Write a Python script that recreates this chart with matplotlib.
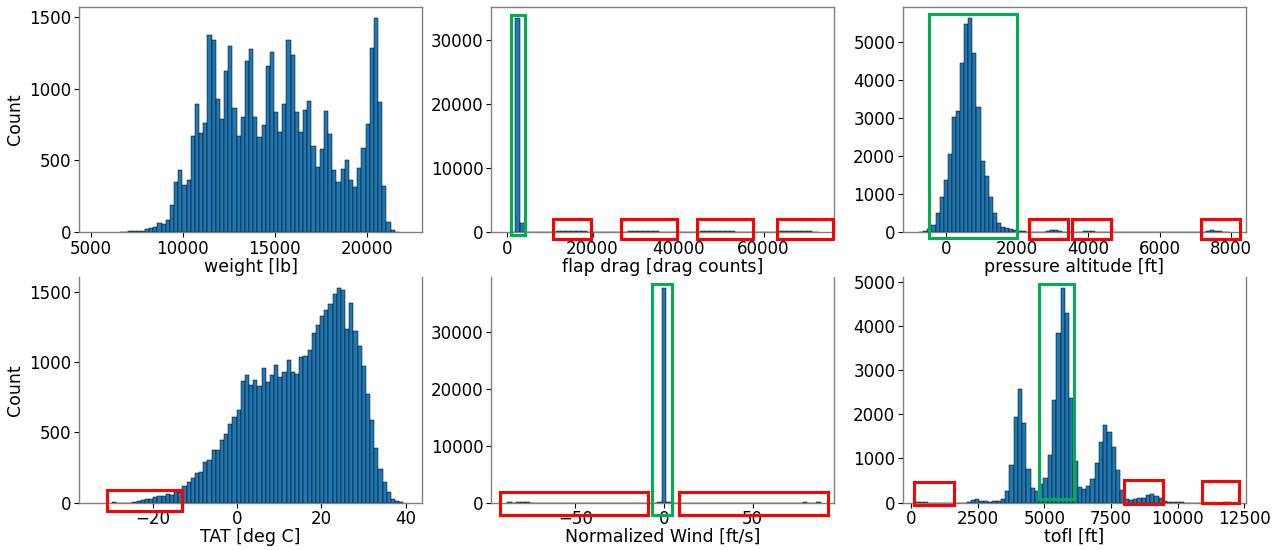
import numpy as np
import matplotlib
matplotlib.use("Agg")
import matplotlib.pyplot as plt
from matplotlib.patches import Rectangle

# ---------------- data (histogram counts per bin) ----------------
weight_edges = np.linspace(6590, 21750, 68)
weight_counts = [4, 5, 6, 8, 10,
                 12, 21, 32, 37, 67, 58, 86, 188, 350, 436, 327, 362, 668, 890, 688, 763,
                 1372, 1340, 927, 788, 1122, 1298, 862, 672, 800, 1194, 1273, 800, 663, 744,
                 1154, 1252, 837, 695,
                 890, 1335, 1231, 834, 695, 848, 911, 600, 452, 582, 844, 684, 431, 352, 440,
                 501, 362, 313, 447, 586, 753, 1280, 1493, 909, 322, 74, 19, 5]

flap_edges = np.linspace(650, 72650, 61)
flap_counts = [120, 33530, 1500,
               30, 10, 5, 3, 2, 1,
               220, 250, 240, 260, 230, 210,
               3, 2, 1, 1, 0, 1, 2, 3,
               220, 250, 260, 240, 230, 210,
               2, 1, 0, 0, 1, 0, 1, 3,
               210, 240, 260, 250, 230, 245, 200,
               2, 1, 0, 0, 0, 0, 1, 2,
               200, 240, 260, 250, 230, 245, 190,
               3]

pressure_edges = np.linspace(-755, 7985, 77)
pressure_counts = [5,
                   44, 79, 184, 509, 939, 1377, 2053, 3026, 3184, 4447, 5456, 5632, 4711,
                   3298, 1868, 1465, 939, 518, 254, 149, 114, 79, 61, 44, 26, 18,
                   10, 6, 4, 20, 45, 60, 50, 30, 10, 5, 8, 5, 10, 30, 40, 25, 10, 4, 2,
                   1, 2, 1, 0, 1, 1, 0, 1, 2, 1, 0, 0, 1, 1, 0, 1, 0, 1, 1, 0, 1, 2, 3,
                   10, 40, 60, 45, 25, 5, 3]

tat_edges = np.linspace(-29.7, 39.4, 71)
tat_counts = [5, 0, 0, 0, 0,
              7, 12, 17, 22, 26, 36, 43, 48, 60, 55, 72, 77, 117, 146, 175, 213, 220,
              292, 304, 373, 373, 447, 488, 560, 612, 660, 868, 907, 840, 873, 830, 957,
              859, 911, 983, 899, 933, 1017, 933, 919, 1041, 1045, 1086, 1213, 1265, 1330,
              1373, 1418, 1485, 1533, 1514, 1241, 1423, 1225, 1119, 974, 773, 591, 388,
              242, 148, 72, 22, 10, 5]

wind_edges = np.linspace(-88.5, 88.5, 70)
wind_counts = [4, 0, 10, 150, 8,
               0, 0, 0, 0, 0, 0, 0, 0, 0, 0, 0, 0, 0, 0, 0, 0, 0, 0, 0, 0, 0, 0, 0, 0, 0, 0, 0, 0,
               60, 37700, 80,
               0, 0, 0, 0, 0, 0, 0, 0, 0, 0, 0, 0, 0, 0, 0, 0, 0, 0, 0, 0, 0, 0, 0, 0, 0, 0, 0, 0, 0,
               30, 0, 0, 3]

tofl_edges = np.linspace(170, 170 + 160 * 74, 75)
tofl_counts = [3, 2, 1, 0, 0, 0, 0, 0, 0, 0, 0, 0,
               15, 53, 83, 45, 23, 15, 23, 38, 83, 265, 849, 1947, 2576, 1796, 765, 318,
               258, 409, 545, 1076, 2326, 3841, 4864, 4296, 2364, 939, 348, 295, 371, 530,
               886, 1379, 1758, 1606, 1265, 735, 280, 68, 53, 68, 91, 106, 167, 182, 152,
               91, 23,
               8, 4, 2, 1, 0, 0, 0, 0, 0, 0, 0, 0, 0, 1, 2]

xlabels = ["weight [lb]", "flap drag [drag counts]", "pressure altitude [ft]",
           "TAT [deg C]", "Normalized Wind [ft/s]", "tofl [ft]"]

# ---------------- style ----------------
plt.rcParams['font.family'] = ['DejaVu Sans']
BAR = '#1f77b4'
RED = '#ff0000'
GREEN = '#00b050'
SPINE = '#808080'

fig = plt.figure(figsize=(12.85, 5.5), dpi=100)
W, H = 1285.0, 550.0
lefts = [79, 491, 903]
aw = 343
rows = [(7, 232.3), (277, 502.5)]


def make_ax(col, row):
    top, bot = rows[row]
    return fig.add_axes([lefts[col] / W, (H - bot) / H, aw / W, (bot - top) / H])


def draw_hist(ax, edges, counts, xlabel, xlim, ylabel=None, top_spine=True):
    edges = np.asarray(edges, dtype=float)
    centers = 0.5 * (edges[:-1] + edges[1:])
    ax.hist(centers, bins=edges, weights=counts, color=BAR, edgecolor='black', linewidth=0.35)
    ax.set_xlim(*xlim)
    ax.set_xlabel(xlabel, fontsize=12.5, labelpad=0)
    if ylabel:
        ax.set_ylabel(ylabel, fontsize=12.5)
    ax.tick_params(labelsize=12, length=3.5, width=0.8, pad=2)
    for s in ax.spines.values():
        s.set_color(SPINE)
        s.set_linewidth(1.0)
    if not top_spine:
        ax.spines['top'].set_visible(False)


def box(ax, x0, x1, y0, y1, color):
    ax.add_patch(Rectangle((x0, y0), x1 - x0, y1 - y0, fill=False, edgecolor=color,
                           linewidth=2.2, clip_on=False, zorder=5))


ax1 = make_ax(0, 0)
draw_hist(ax1, weight_edges, weight_counts, xlabels[0], (4364, 23005), ylabel='Count')

ax2 = make_ax(1, 0)
draw_hist(ax2, flap_edges, flap_counts, xlabels[1], (-3743, 76491))
box(ax2, 865, 4210, -420, 33950, GREEN)
for a, b in [(10690, 19650), (26670, 39840), (44370, 57470), (63080, 76190)]:
    box(ax2, a, b, -1094, 2031, RED)

ax3 = make_ax(2, 0)
draw_hist(ax3, pressure_edges, pressure_counts, xlabels[2], (-1208, 8427))
box(ax3, -469, 1986, -142, 5718, GREEN)
for a, b in [(2331, 3419), (3548, 4635), (7163, 8258)]:
    box(ax3, a, b, -184, 350, RED)

ax4 = make_ax(0, 1)
draw_hist(ax4, tat_edges, tat_counts, xlabels[3], (-37.4, 43.8), ylabel='Count', top_spine=False)
box(ax4, -30.8, -13.1, -60, 88, RED)

ax5 = make_ax(1, 1)
draw_hist(ax5, wind_edges, wind_counts, xlabels[4], (-97.7, 96.0), top_spine=False)
box(ax5, -6.6, 4.4, -2230, 38310, GREEN)
box(ax5, -92.7, -8.9, -2109, 1863, RED)
box(ax5, 8.5, 92.5, -2109, 1863, RED)

ax6 = make_ax(2, 1)
draw_hist(ax6, tofl_edges, tofl_counts, xlabels[5], (-300, 12570), top_spine=False)
box(ax6, 4814, 6128, 68, 4955, GREEN)
box(ax6, 113, 1614, -61, 461, RED)
box(ax6, 8004, 9467, -32, 500, RED)
box(ax6, 10908, 12319, -9, 491, RED)

fig.savefig('out.png', dpi=100)
